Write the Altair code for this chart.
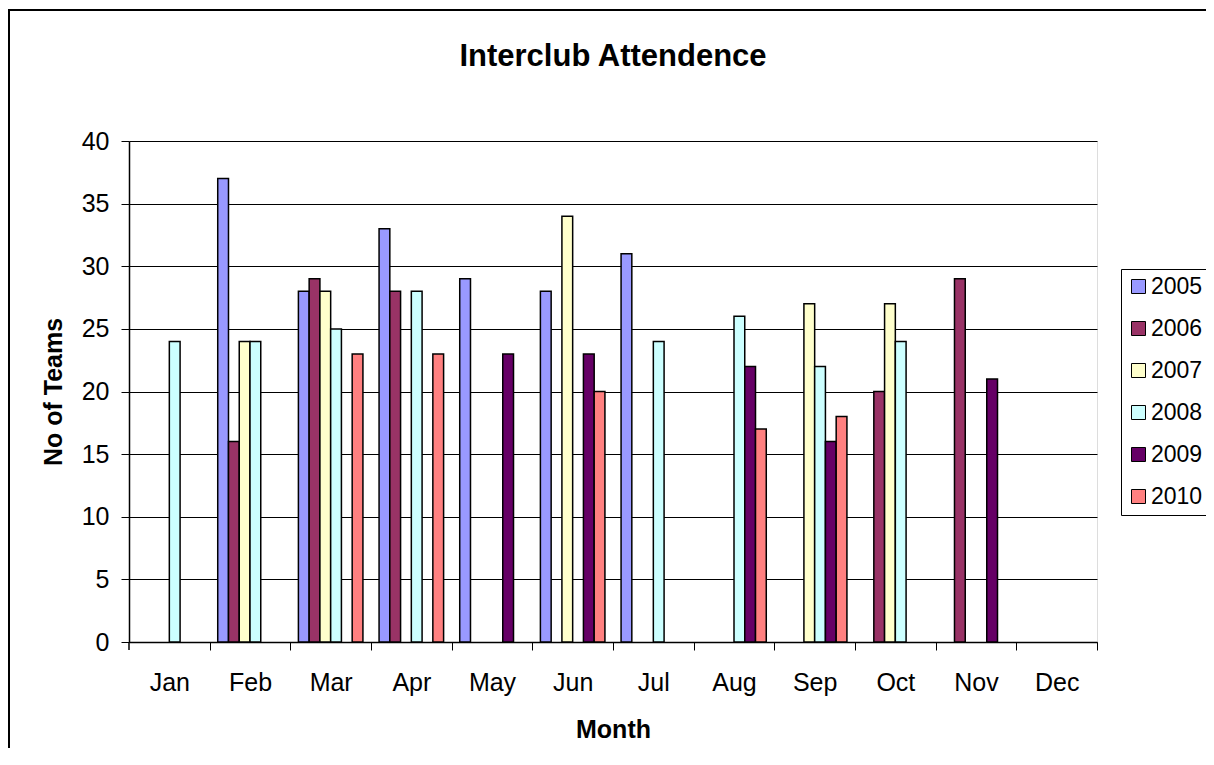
import altair as alt
import pandas as pd

months = ["Jan", "Feb", "Mar", "Apr", "May", "Jun", "Jul", "Aug", "Sep", "Oct", "Nov", "Dec"]
years = ["2005", "2006", "2007", "2008", "2009", "2010"]
colors = ["#9999FF", "#993366", "#FFFFCC", "#CCFFFF", "#660066", "#FF8080"]

y2005 = [None, 37, 28, 33, 29, 28, 31, None, None, None, None, None]
y2006 = [None, 16, 29, 28, None, None, None, None, None, 20, 29, None]
y2007 = [None, 24, 28, None, None, 34, None, None, 27, 27, None, None]
y2008 = [24, 24, 25, 28, None, None, 24, 26, 22, 24, None, None]
y2009 = [None, None, None, None, 23, 23, None, 22, 16, None, 21, None]
y2010 = [None, None, 23, 23, None, 20, None, 17, 18, None, None, None]
series = [y2005, y2006, y2007, y2008, y2009, y2010]

rows = []
for yr, vals in zip(years, series):
    for m, v in zip(months, vals):
        if v is not None:
            rows.append({"Month": m, "Year": yr, "Teams": v})
df = pd.DataFrame(rows)

FONT = "Liberation Sans"
W, H = 968, 501
STEP = W / len(months)
HALF_GAP = STEP * 0.2 / 2

bars = alt.Chart(df).mark_bar(stroke="black", strokeWidth=1.5).encode(
    x=alt.X(
        "Month:N",
        sort=months,
        scale=alt.Scale(domain=months, paddingInner=0.2, paddingOuter=0.1),
        axis=alt.Axis(
            title="Month", labelAngle=0, grid=False,
            bandPosition=1, tickExtra=False, tickOffset=HALF_GAP, labelOffset=-HALF_GAP,
            tickSize=8, tickColor="black", tickWidth=1,
            domainColor="black", domainWidth=1.5,
            labelFont=FONT, labelFontSize=25, labelColor="black", labelPadding=20,
            titleFont=FONT, titleFontSize=25, titleFontWeight="bold", titleColor="black",
            titleY=95, titleBaseline="alphabetic",
        ),
    ),
    xOffset=alt.XOffset("Year:N", scale=alt.Scale(domain=years, paddingInner=0, paddingOuter=0)),
    y=alt.Y(
        "Teams:Q",
        scale=alt.Scale(domain=[0, 40], nice=False),
        axis=alt.Axis(
            title="No of Teams", values=list(range(0, 41, 5)),
            tickSize=8, tickColor="black", tickWidth=1,
            domainColor="black", domainWidth=1.5,
            grid=True, gridColor="black", gridWidth=1, gridOpacity=1,
            labelFont=FONT, labelFontSize=25, labelColor="black", labelPadding=12,
            titleFont=FONT, titleFontSize=25, titleFontWeight="bold", titleColor="black",
            titleX=-68, titleY=H / 2, titleBaseline="alphabetic", titleAngle=270,
        ),
    ),
    color=alt.Color(
        "Year:N",
        scale=alt.Scale(domain=years, range=colors),
        legend=alt.Legend(
            title=None, orient="none", legendX=992, legendY=128,
            fillColor="white", strokeColor="black", padding=6,
            symbolType="square", symbolSize=196, symbolStrokeColor="black",
            symbolStrokeWidth=1, symbolOpacity=1,
            labelFont=FONT, labelFontSize=23, labelColor="black", labelOffset=1,
            rowPadding=18,
        ),
    ),
)

# first x-axis tick (continuation of the value axis below the baseline)
first_tick = alt.Chart(pd.DataFrame({"f": [0]})).mark_rule(color="black", strokeWidth=1.5).encode(
    x=alt.value(0), y=alt.value(H), y2=alt.value(H + 8)
)

# outer chart-area border
frame = alt.Chart(pd.DataFrame({"f": [0]})).mark_rect(
    filled=False, stroke="black", strokeWidth=2
).encode(
    x=alt.value(-120), x2=alt.value(1300), y=alt.value(-131), y2=alt.value(900)
)

chart = alt.layer(bars, first_tick, frame).properties(
    width=W,
    height=H,
    title=alt.TitleParams(
        "Interclub Attendence", font=FONT, fontSize=31, fontWeight="bold",
        color="black", anchor="middle", offset=-88, baseline="alphabetic",
    ),
    autosize=alt.AutoSizeParams(type="none"),
    padding={"left": 121, "top": 133, "right": 109, "bottom": 106},
).configure_view(
    fill="#C0C0C0", stroke="#808080", strokeWidth=1.5
).configure(background="white")

chart.save("out.html", embed_options={"renderer": "svg", "actions": False})
